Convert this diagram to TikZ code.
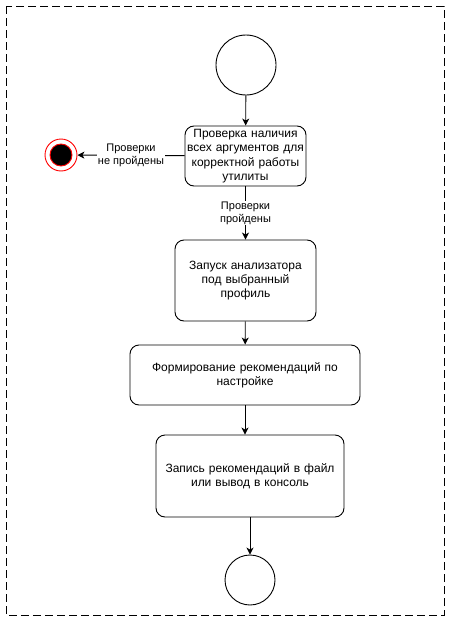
\documentclass[tikz,border=0pt]{standalone}
\usepackage{fontspec}
\setmainfont{Liberation Sans}
\usetikzlibrary{arrows.meta}
\begin{document}
\begin{tikzpicture}[x=1pt, y=-1pt, line width=0.9pt,
  act/.style={draw, rounded corners=9pt, align=center, inner sep=1pt, font=\fontsize{12}{14.4}\selectfont},
  lbl/.style={fill=white, align=center, inner sep=1pt, font=\fontsize{11}{13}\selectfont},
  flow/.style={-{Stealth[length=7pt, width=7pt, inset=2pt]}}]
\useasboundingbox (0,0) rectangle (451,621);
\draw[dash pattern=on 8pt off 4pt] (6,6) rectangle (444,615);
\node[circle, draw, minimum size=60pt] (start) at (246,65){};
\node[act, minimum width=121pt, minimum height=60pt, text width=119pt] (check) at (245.5,156){Проверка наличия\\всех аргументов для\\корректной работы\\утилиты};
\node[circle, draw=red, minimum size=32pt] (fail) at (61,155){};
\node[circle, draw=red, fill=black, minimum size=22pt] (failin) at (61,155){};
\node[act, minimum width=141pt, minimum height=81pt, text width=137pt] (run) at (245.5,280.5){Запуск анализатора\\под выбранный\\профиль};
\node[act, minimum width=230pt, minimum height=60pt, text width=226pt] (form) at (245,375){Формирование рекомендаций по\\настройке};
\node[act, minimum width=188pt, minimum height=82pt, text width=184pt] (write) at (250,476){Запись рекомендаций в файл\\или вывод в консоль};
\node[circle, draw, minimum size=50pt] (stop) at (250,580){};
\draw[flow](start) -- (check);
\draw[flow](check) -- node[lbl]{Проверки\\не пройдены} (fail);
\draw[flow](check) -- node[lbl]{Проверки\\пройдены} (run);
\draw[flow](run) -- (form);
\draw[flow](form.south) -- (form.south |- write.north);
\draw[flow](write) -- (stop);
\end{tikzpicture}
\end{document}
